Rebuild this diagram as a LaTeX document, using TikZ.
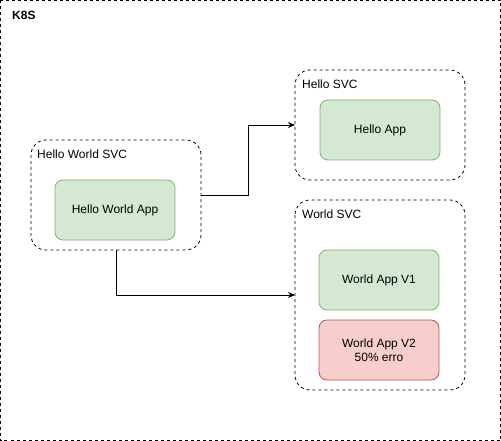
\documentclass[tikz,border=0pt]{standalone}
\usepackage{fontspec}
\setmainfont{Liberation Sans}
\usetikzlibrary{arrows.meta}
\definecolor{gfill}{HTML}{D5E8D4}
\definecolor{gline}{HTML}{82B366}
\definecolor{rfill}{HTML}{F8CECC}
\definecolor{rline}{HTML}{B85450}
\begin{document}
\begin{tikzpicture}[x=1pt,y=-1pt,
  svc/.style={draw=black, dashed, dash pattern=on 3pt off 3pt, rounded corners=15pt, line width=0.8pt},
  app/.style={draw=gline, fill=gfill, rounded corners=8pt, line width=0.8pt, minimum width=120pt, minimum height=60pt, font=\fontsize{12}{14}\selectfont, align=center},
  bad/.style={app, draw=rline, fill=rfill},
  lbl/.style={anchor=west, font=\fontsize{12}{14}\selectfont, inner sep=0pt},
  conn/.style={draw, line width=0.8pt, -{Stealth[length=7pt,width=6pt]}}]
\useasboundingbox (0,0) rectangle (501,441);
\draw[dashed, dash pattern=on 3pt off 3pt, line width=0.8pt] (0.5,0.5) rectangle (500.5,440.5);
\node[lbl, font=\bfseries\fontsize{12}{14}\selectfont] (k8s) at (12,15) {K8S};
% Hello World SVC
\draw[svc] (31,140) rectangle (201,250);
\coordinate (hwright) at (201,195);
\coordinate (hwbottom) at (116,250);
\node[lbl] (hwl) at (37,154) {Hello World SVC};
\node[app] (hwapp) at (115,210) {Hello World App};
% Hello SVC
\draw[svc] (295,70) rectangle (465,180);
\coordinate (hleft) at (295,125);
\node[lbl] (hl) at (302,84) {Hello SVC};
\node[app] (happ) at (380,130) {Hello App};
% World SVC
\draw[svc] (295,200) rectangle (465,390);
\coordinate (wleft) at (295,295);
\node[lbl] (wl) at (302,214) {World SVC};
\node[app] (w1) at (379,280) {World App V1};
\node[bad] (w2) at (379,350) {World App V2\\50\% erro};
% connectors
\draw[conn] (hwright) -- (248,195) -- (248,125) -- (hleft);
\draw[conn] (hwbottom) -- (116,295) -- (wleft);
\end{tikzpicture}
\end{document}
